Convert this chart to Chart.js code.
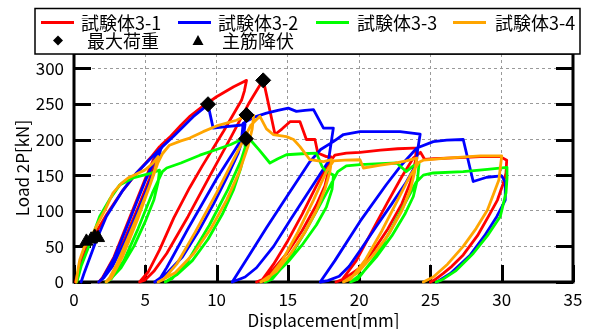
<!DOCTYPE html>
<html><head><meta charset="utf-8">
<script src="https://cdn.jsdelivr.net/npm/chart.js@4.4.0/dist/chart.umd.min.js"></script>
<style>html,body{margin:0;padding:0;background:#fff;}#wrap{width:590px;height:329px;}</style>
</head><body><div id="wrap"><canvas id="c" width="590" height="329"></canvas></div>
<script>
// ---- data (displacement mm, load kN) ----
const seriesNames = ['試験体3-1', '試験体3-2', '試験体3-3', '試験体3-4'];
const markerNames = ['最大荷重', '主筋降伏'];
const seriesColors = ['#ff0000', '#0000ff', '#00ff00', '#ffa500'];
const xTickValues = [0, 5, 10, 15, 20, 25, 30, 35];
const yTickValues = [0, 50, 100, 150, 200, 250, 300];

const s31 = [[0.1,0],[0.3,15],[0.6,35],[1.0,52],[1.5,68],[2.3,95],[3.4,128],[4.4,153],[5.4,175],[6.0,190],
 [5.8,175],[5.3,145],[4.5,105],[3.5,58],[2.6,22],[2.0,5],[1.75,0],
 [2.0,6],[2.8,35],[4.0,95],[5.0,145],[5.7,178],[6.1,192],
 [6.8,205],[7.5,220],[8.1,232],[9.0,246],[10.0,260],[11.2,274],[11.9,281],[12.1,283],
 [11.95,268],[11.75,255],[10.5,212],[9.0,163],[8.1,132],[7.0,90],[6.0,45],[5.2,14],[4.6,0],
 [5.0,3],[5.6,15],[6.5,40],[8.0,92],[9.5,148],[11.0,203],[12.3,252],[13.27,284],
 [13.5,263],[14.1,207],[14.6,215],[15.15,225],[15.85,225],[16.3,200],[16.9,200],[17.1,181],[17.7,176],[18.0,176],
 [17.9,160],[17.6,135],[17.0,108],[16.0,72],[15.0,42],[14.0,18],[13.3,4],[12.8,0],
 [13.2,3],[14.0,25],[15.0,58],[16.0,95],[17.0,135],[17.8,165],[18.3,178],
 [19.1,181],[20.06,182],[21.5,185],[22.7,187],[23.8,188],[24.0,188],
 [23.95,170],[23.6,140],[23.0,110],[22.0,74],[21.0,44],[20.0,19],[19.0,5],[18.37,0],
 [18.8,3],[19.8,30],[21.0,75],[22.0,112],[23.0,148],[23.8,174],[24.3,182],[24.6,172],
 [25.2,173],[26.2,174],[27.5,175],[28.5,176],[29.9,176],[30.35,171],[30.3,153],
 [30.1,138],[29.7,115],[29.07,92],[28.3,65],[27.3,38],[26.5,22],[25.9,12],[25.3,3],[25.0,0]];

const s32 = [[0.5,0],[0.7,12],[0.98,27],[1.57,59],[2.27,92],[3.44,129],[4.38,153],[5.3,172],[6.1,188],
 [5.9,172],[5.4,145],[4.6,105],[3.6,58],[2.7,22],[2.1,6],[1.73,0],
 [2.0,5],[2.8,33],[4.0,92],[5.0,142],[5.8,178],[6.2,190],
 [7.0,205],[8.36,232],[9.4,249],[9.76,216],[10.7,218],[11.63,220],[12.0,222],
 [11.9,205],[11.5,180],[10.8,150],[9.8,110],[8.7,70],[7.6,35],[6.5,12],[5.66,0],
 [6.0,4],[6.5,20],[8.0,75],[10.0,145],[11.75,200],[11.87,223],[12.6,231],[13.5,237],[14.3,241],[15.03,244],[15.6,239.5],[16.2,241],[16.8,242],[17.5,216],[18.19,216],
 [17.84,169],[16.5,128],[15.2,88],[14.0,50],[12.8,20],[12.0,7],[11.1,0],
 [12.3,38],[13.5,76],[15.0,122],[16.55,169],[17.3,186],[18.19,197],[18.9,207],[20.06,211],[22.87,211],[24.28,207.5],
 [24.1,185],[24.0,165],[23.3,140],[22.3,110],[21.2,78],[20.2,48],[19.3,22],[18.6,8],[17.8,2],[17.27,0],
 [18.3,30],[20.06,85],[21.9,136.5],[23.0,165],[24.05,188],[25.2,197],[26.15,199],[27.3,200],[28.0,141],[28.96,147],[30.0,149],
 [30.25,140],[30.25,115],[29.66,92],[28.8,65],[27.8,38],[26.4,12],[25.45,0]];

const s33 = [[0.2,0],[0.5,22],[1.0,48],[1.8,92],[2.5,116],[3.2,136],[4.14,146],[5.3,152],[6.0,157],
 [5.9,140],[5.6,115],[5.0,85],[4.2,50],[3.3,20],[2.6,5],[2.25,0],
 [2.6,4],[3.5,30],[4.5,75],[5.5,125],[6.2,155],[6.5,160],
 [7.5,167],[8.83,178],[10.0,186],[11.0,193],[11.63,199],[12.06,201],
 [12.0,185],[11.7,160],[11.2,130],[10.4,95],[9.4,60],[8.3,30],[7.2,10],[6.4,0],
 [6.9,5],[8.0,30],[9.5,80],[10.8,130],[11.7,170],[12.1,195],[12.3,201],
 [13.0,185],[13.74,167],[14.3,173],[14.9,178.6],[16.0,180],[17.0,181],[17.4,162],[17.7,155],[18.2,150],
 [18.1,130],[17.7,105],[17.0,80],[16.0,52],[15.0,28],[14.1,10],[13.4,0],
 [13.9,4],[15.0,30],[16.2,70],[17.3,110],[18.1,140],[18.5,155],[19.1,163],[20.06,164.6],[21.5,166],[22.64,167],[23.3,155],[23.8,163],[24.2,166],
 [24.1,145],[23.8,120],[23.2,95],[22.3,65],[21.2,35],[20.2,12],[19.4,0],
 [19.9,4],[21.0,32],[22.2,72],[23.2,110],[24.0,140],[24.5,150],[25.2,153],[27.3,155],[29.0,158],[30.37,161],
 [30.37,145],[30.3,125],[29.9,92],[29.0,65],[28.0,40],[26.8,16],[25.8,3],[25.4,0]];

const s34 = [[0.15,0],[0.3,20],[0.4,31],[0.7,48],[1.1,59],[1.57,78],[2.2,102],[2.74,125],[3.3,138],[3.79,146],[4.96,157],[5.5,166],[5.9,176],
 [5.7,160],[5.3,135],[4.6,100],[3.8,62],[3.0,25],[2.5,6],[2.25,0],
 [2.6,5],[3.4,35],[4.5,90],[5.4,140],[5.9,168],[6.2,180],
 [6.7,192],[7.5,198],[8.12,202],[9.06,211],[10.0,219],[11.4,227],[12.1,234],[12.6,234],
 [12.5,215],[12.2,190],[11.6,155],[10.7,115],[9.6,75],[8.4,40],[7.1,13],[5.9,0],
 [6.3,4],[7.2,25],[8.5,70],[10.0,125],[11.4,180],[12.4,220],[13.04,232.5],[13.5,215],[13.97,207],[14.9,204],[15.4,200],[15.85,190],[16.55,171.6],[17.5,169],[18.07,171.6],
 [17.95,155],[17.6,130],[17.0,100],[16.2,70],[15.2,40],[14.2,15],[13.1,0],
 [13.6,4],[14.6,30],[15.7,70],[16.8,115],[17.7,155],[18.2,170],[19.0,171],[20.06,171.6],[20.3,160],[21.5,164],[22.5,167],[23.3,170],[24.05,174],
 [23.9,155],[23.6,130],[23.0,100],[22.1,68],[21.0,38],[19.9,13],[18.9,0],
 [19.4,4],[20.4,30],[21.6,72],[22.7,115],[23.6,150],[24.2,168],[24.5,171],[26.15,174],[28.5,177],[30.0,177],
 [29.9,160],[29.8,143],[29.0,101],[28.2,75],[27.3,50],[26.2,25],[25.2,7],[24.5,0]];

const maxLoadPoints = [[9.4,249.5],[13.27,283],[12.1,234.5],[12.06,201]];
const yieldPoints = [[0.87,57],[1.2,60],[1.45,64],[1.69,62]];

// ---- chart ----
const FONT = "'Noto Sans CJK JP', 'Noto Sans', sans-serif";
const toXY = a => a.map(p => ({x: p[0], y: p[1]}));
const seriesData = [s31, s32, s33, s34];

const lineSets = seriesData.map((d, i) => ({
  label: seriesNames[i], data: toXY(d), showLine: true, borderColor: seriesColors[i],
  backgroundColor: seriesColors[i], borderWidth: 2.8, pointRadius: 0, tension: 0,
  order: 4 - i, clip: 6, borderJoinStyle: 'round', borderCapStyle: 'round'
}));
const markerSets = [
  {label: markerNames[0], data: toXY(maxLoadPoints), pointStyle: 'rectRot', pointRadius: 7.5,
   backgroundColor: '#000', borderColor: '#000', borderWidth: 1, showLine: false, order: 0, clip: false},
  {label: markerNames[1], data: toXY(yieldPoints), pointStyle: 'triangle', pointRadius: 7.5,
   backgroundColor: '#000', borderColor: '#000', borderWidth: 1, showLine: false, order: 0, clip: false}
];

const framePlugin = {
  id: 'frame',
  beforeDatasetsDraw(chart) {
    const {ctx, chartArea: {left, right, top, bottom}, scales: {x, y}} = chart;
    ctx.save();
    ctx.strokeStyle = '#000';
    ctx.lineWidth = 3;
    ctx.lineCap = 'butt';
    const L = 17;
    ctx.beginPath();
    yTickValues.forEach(v => {
      const py = Math.round(y.getPixelForValue(v)) + 0.5;
      ctx.moveTo(left, py); ctx.lineTo(left + L, py);
      ctx.moveTo(right - L, py); ctx.lineTo(right, py);
    });
    xTickValues.forEach(v => {
      const px = Math.round(x.getPixelForValue(v)) + 0.5;
      ctx.moveTo(px, bottom); ctx.lineTo(px, bottom - L);
    });
    ctx.stroke();
    ctx.beginPath();
    ctx.moveTo(left, top); ctx.lineTo(left, bottom); ctx.lineTo(right, bottom); ctx.lineTo(right, top);
    ctx.stroke();
    ctx.lineWidth = 1.5;
    ctx.beginPath(); ctx.moveTo(left, top); ctx.lineTo(right, top); ctx.stroke();
    ctx.restore();
  }
};

const legendPlugin = {
  id: 'customLegend',
  afterDraw(chart) {
    const ctx = chart.ctx;
    ctx.save();
    ctx.fillStyle = '#fff';
    ctx.strokeStyle = '#000';
    ctx.lineWidth = 1.5;
    ctx.fillRect(35, 8.5, 545, 45.5);
    ctx.strokeRect(35, 8.5, 545, 45.5);
    ctx.font = "18px " + FONT;
    ctx.textBaseline = 'middle';
    ctx.textAlign = 'left';
    const row1 = 22.5, row2 = 40.5;
    const lineX = [41, 178, 316, 453];
    const textX = [81, 218, 357, 495];
    chart.data.datasets.slice(0, 4).forEach((ds, i) => {
      ctx.strokeStyle = ds.borderColor;
      ctx.lineWidth = 2.8;
      ctx.beginPath(); ctx.moveTo(lineX[i], row1); ctx.lineTo(lineX[i] + 33, row1); ctx.stroke();
      ctx.fillStyle = '#000';
      ctx.fillText(ds.label, textX[i], row1 + 1);
    });
    ctx.fillStyle = '#000';
    const dx = 58;
    ctx.beginPath(); ctx.moveTo(dx, row2 - 5); ctx.lineTo(dx + 5, row2); ctx.lineTo(dx, row2 + 5); ctx.lineTo(dx - 5, row2); ctx.closePath(); ctx.fill();
    ctx.fillText(chart.data.datasets[4].label, 87, row2 + 1);
    const tx = 198;
    ctx.beginPath(); ctx.moveTo(tx, row2 - 5.5); ctx.lineTo(tx + 5.5, row2 + 4.5); ctx.lineTo(tx - 5.5, row2 + 4.5); ctx.closePath(); ctx.fill();
    ctx.fillText(chart.data.datasets[5].label, 222, row2 + 1);
    ctx.restore();
  }
};

new Chart(document.getElementById('c'), {
  type: 'scatter',
  data: {datasets: [...lineSets, ...markerSets]},
  options: {
    responsive: false, animation: false, devicePixelRatio: 1,
    layout: {padding: {top: 54, right: 17, left: 0, bottom: 0}},
    plugins: {legend: {display: false}, tooltip: {enabled: false}},
    scales: {
      x: {
        type: 'linear', min: 0, max: 35,
        ticks: {stepSize: 5, includeBounds: false, padding: 7, color: '#000', font: {family: FONT, size: 17}},
        grid: {color: '#9a9a9a', lineWidth: 1, drawTicks: false},
        border: {display: false, dash: [3, 3]},
        title: {display: true, text: 'Displacement[mm]', color: '#000', font: {family: FONT, size: 17, lineHeight: 1}, padding: {top: 0, bottom: 0}},
        afterFit: s => { s.height = 47; }
      },
      y: {
        type: 'linear', min: 0, max: 320,
        ticks: {stepSize: 50, includeBounds: false, padding: 10, color: '#000', font: {family: FONT, size: 17}},
        grid: {color: '#9a9a9a', lineWidth: 1, drawTicks: false},
        border: {display: false, dash: [3, 3]},
        title: {display: true, text: 'Load 2P[kN]', color: '#000', font: {family: FONT, size: 17, lineHeight: 1}, padding: {top: 14, bottom: 0}},
        afterFit: s => { s.width = 74; }
      }
    }
  },
  plugins: [framePlugin, legendPlugin]
});
</script></body></html>
